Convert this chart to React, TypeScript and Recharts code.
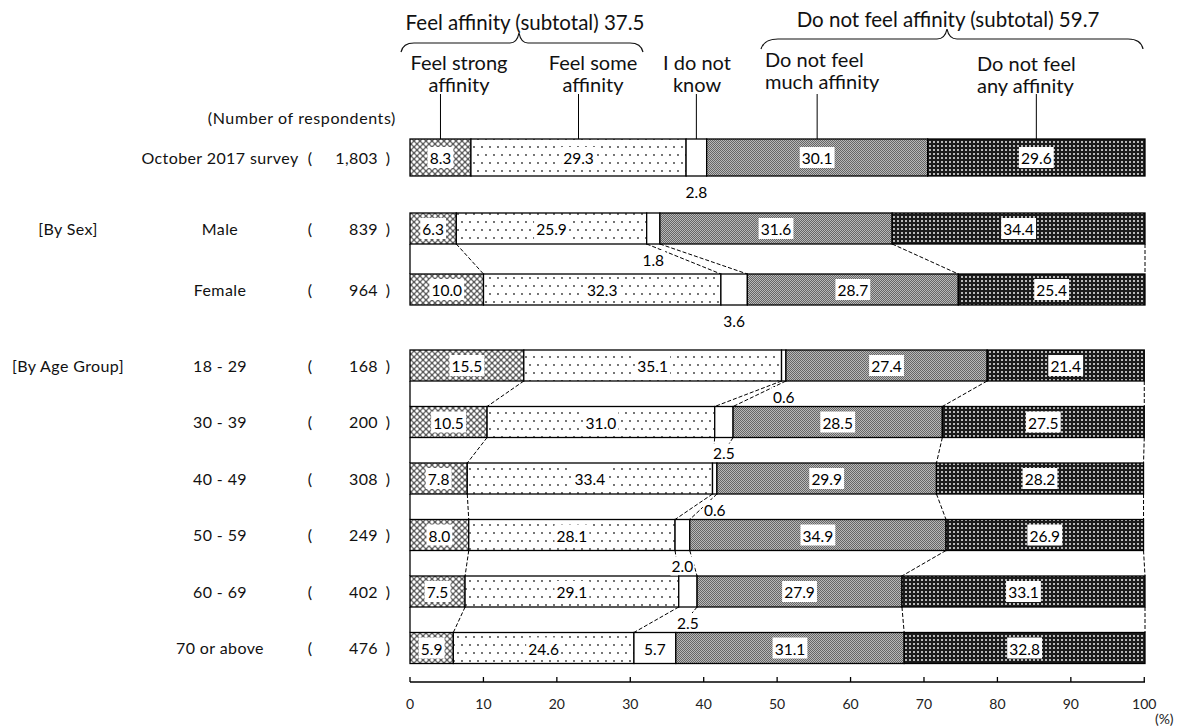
import { BarChart, Bar, XAxis, YAxis } from "recharts"

// answer categories (left → right)
const seriesKeys = ["strong", "some", "unknown", "notMuch", "notAny"]
const seriesHeaders = [
  ["Feel strong", "affinity"],
  ["Feel some", "affinity"],
  ["I do not", "know"],
  ["Do not feel", "much affinity"],
  ["Do not feel", "any affinity"],
]
const subtotalLabels = ["Feel affinity (subtotal) 37.5", "Do not feel affinity (subtotal) 59.7"]

// rows
const totalRows = ["October 2017 survey"]
const totalCounts = ["1,803"]
const sexRows = ["Male", "Female"]
const sexCounts = ["839", "964"]
const ageRows = ["18 - 29", "30 - 39", "40 - 49", "50 - 59", "60 - 69", "70 or above"]
const ageCounts = ["168", "200", "308", "249", "402", "476"]
const groupLabels = ["[By Sex]", "[By Age Group]"]

// values (%) in row order: total, male, female, 18-29 ... 70+
const strong = [8.3, 6.3, 10.0, 15.5, 10.5, 7.8, 8.0, 7.5, 5.9]
const some = [29.3, 25.9, 32.3, 35.1, 31.0, 33.4, 28.1, 29.1, 24.6]
const unknown = [2.8, 1.8, 3.6, 0.6, 2.5, 0.6, 2.0, 2.5, 5.7]
const notMuch = [30.1, 31.6, 28.7, 27.4, 28.5, 29.9, 34.9, 27.9, 31.1]
const notAny = [29.6, 34.4, 25.4, 21.4, 27.5, 28.2, 26.9, 33.1, 32.8]

const xTicks = [0, 10, 20, 30, 40, 50, 60, 70, 80, 90, 100]

const FONT = "Lato, 'Open Sans', sans-serif"
const fills = ["url(#pStrong)", "url(#pSome)", "#ffffff", "url(#pNotMuch)", "url(#pNotAny)"]

type Row = { name: string; count: string; group?: string; [k: string]: any }

function buildRows(names: string[], counts: string[], offset: number, group?: string): Row[] {
  return names.map((name, i) => ({
    name,
    count: counts[i],
    group: i === 0 ? group : undefined,
    i,
    strong: strong[offset + i],
    some: some[offset + i],
    unknown: unknown[offset + i],
    notMuch: notMuch[offset + i],
    notAny: notAny[offset + i],
  }))
}

const totalData = buildRows(totalRows, totalCounts, 0)
const sexData = buildRows(sexRows, sexCounts, 1, groupLabels[0])
const ageData = buildRows(ageRows, ageCounts, 3, groupLabels[1])

const vals = (r: Row) => seriesKeys.map((k) => r[k] as number)
const cum = (r: Row, k: number) => vals(r).slice(0, k + 1).reduce((a, b) => a + b, 0)

const VAL_FS = 15.5

function textWidth(s: string) {
  let w = 0
  for (const c of s) w += c === "." ? VAL_FS * 0.25 : VAL_FS * 0.58
  return w
}

function makeShape(k: number, rows: Row[], step: number, leaderTop?: number) {
  return (props: any) => {
    const { x, y, width, height, payload } = props
    const row = rows[payload.i]
    const v = row[seriesKeys[k]] as number
    const ppu = width / v
    const x0 = x - (cum(row, k) - v) * ppu
    const next = rows[payload.i + 1]
    const label = v.toFixed(1)
    const cx = x + width / 2
    const below = k === 2 && v < 5
    const tw = textWidth(label)
    return (
      <g>
        <rect x={x} y={y} width={width} height={height} fill={fills[k]} stroke="#000" strokeWidth={1.3} />
        {next && k === 0 && (
          <line x1={x} x2={x} y1={y + height} y2={y + step} stroke="#000" strokeWidth={1.3} />
        )}
        {next && (
          <line
            x1={x + width}
            y1={y + height}
            x2={x0 + cum(next, k) * ppu}
            y2={y + step}
            stroke="#000"
            strokeWidth={1}
            strokeDasharray="4 2"
          />
        )}
        {leaderTop !== undefined && (
          <line x1={cx} x2={cx} y1={y} y2={leaderTop} stroke="#000" strokeWidth={1} />
        )}
        {below ? (
          <g>
            <rect x={cx - tw / 2 - 1} y={y + height + 6} width={tw + 2} height={19} fill="#fff" />
            <text x={cx} y={y + height + 15.5} textAnchor="middle" dominantBaseline="central" fontSize={VAL_FS} fill="#000" fontFamily={FONT}>
              {label}
            </text>
          </g>
        ) : (
          <g>
            <rect x={cx - tw / 2 - 2} y={y + height / 2 - 10.5} width={tw + 4} height={21} fill="#fff" />
            <text x={cx} y={y + height / 2 + 0.5} textAnchor="middle" dominantBaseline="central" fontSize={VAL_FS} fill="#000" fontFamily={FONT}>
              {label}
            </text>
          </g>
        )}
      </g>
    )
  }
}

function RowTick(props: any) {
  const { y, payload, rows } = props
  const row = (rows as Row[]).find((r) => r.name === payload.value)
  if (!row) return null
  const st = { fontSize: 16, fill: "#111", fontFamily: FONT, letterSpacing: 0.4 }
  return (
    <g>
      {row.group && (
        <text x={68} y={y} textAnchor="middle" dominantBaseline="central" {...st}>
          {row.group}
        </text>
      )}
      <text x={220} y={y} textAnchor="middle" dominantBaseline="central" {...st}>
        {row.name}
      </text>
      <text x={310} y={y} textAnchor="middle" dominantBaseline="central" {...st}>
        (
      </text>
      <text x={378} y={y} textAnchor="end" dominantBaseline="central" {...st}>
        {row.count}
      </text>
      <text x={388} y={y} textAnchor="middle" dominantBaseline="central" {...st}>
        )
      </text>
    </g>
  )
}

function PctTick(props: any) {
  const { x, y, payload } = props
  return (
    <g>
      <line x1={x} x2={x} y1={y - 5} y2={y} stroke="#000" strokeWidth={1.3} />
      <text x={x} y={y + 21} textAnchor="middle" dominantBaseline="central" fontSize={14} fill="#222" fontFamily={FONT}>
        {payload.value}
      </text>
      {payload.value === 100 && (
        <text x={x + 20} y={y + 36} textAnchor="middle" dominantBaseline="central" fontSize={14} fill="#222" fontFamily={FONT}>
          (%)
        </text>
      )}
    </g>
  )
}

type PanelProps = {
  data: Row[]
  top: number
  height: number
  marginTop: number
  marginBottom: number
  barSize: number
  step: number
  showAxis?: boolean
  padBottom?: number
  leaderTop?: number
}

function Panel({ data, top, height, marginTop, marginBottom, barSize, step, showAxis, padBottom, leaderTop }: PanelProps) {
  return (
    <div style={{ position: "absolute", left: 0, top, width: 1181, height }}>
      <BarChart
        width={1181}
        height={height}
        data={data}
        layout="vertical"
        margin={{ top: marginTop, right: 36, bottom: marginBottom, left: 0 }}
        barSize={barSize}
      >
        <XAxis
          type="number"
          domain={[0, 100]}
          ticks={xTicks}
          hide={!showAxis}
          height={30}
          axisLine={{ stroke: "#000", strokeWidth: 1.3 }}
          tickLine={false}
          tickSize={0}
          tickMargin={0}
          tick={<PctTick />}
          interval={0}
        />
        <YAxis
          type="category"
          dataKey="name"
          width={410}
          axisLine={false}
          tickLine={false}
          interval={0}
          padding={{ top: 0, bottom: padBottom ?? 0 }}
          tick={<RowTick rows={data} />}
        />
        {seriesKeys.map((key, k) => (
          <Bar
            key={key}
            dataKey={key}
            stackId="a"
            fill={fills[k]}
            isAnimationActive={false}
            shape={makeShape(k, data, step, leaderTop)}
          />
        ))}
      </BarChart>
    </div>
  )
}

function Header() {
  const st = { fontFamily: FONT, fill: "#111" }
  const headerPos = [
    { x: 459, anchor: "middle", y: 62 },
    { x: 593, anchor: "middle", y: 62 },
    { x: 697, anchor: "middle", y: 62 },
    { x: 765, anchor: "start", y: 59 },
    { x: 977, anchor: "start", y: 63 },
  ]
  return (
    <svg width={1181} height={130} style={{ position: "absolute", left: 0, top: 0 }}>
      <defs>
        <pattern id="pStrong" patternUnits="userSpaceOnUse" width={6} height={6}>
          <rect width={6} height={6} fill="#5c5c5c" />
          <circle cx={0} cy={0} r={1.7} fill="#fff" />
          <circle cx={6} cy={0} r={1.7} fill="#fff" />
          <circle cx={0} cy={6} r={1.7} fill="#fff" />
          <circle cx={6} cy={6} r={1.7} fill="#fff" />
          <circle cx={3} cy={3} r={1.7} fill="#fff" />
        </pattern>
        <pattern id="pSome" patternUnits="userSpaceOnUse" width={8} height={16}>
          <rect width={8} height={16} fill="#fff" />
          <circle cx={2} cy={3} r={0.9} fill="#333" />
          <circle cx={6} cy={11} r={0.9} fill="#333" />
        </pattern>
        <pattern id="pNotMuch" patternUnits="userSpaceOnUse" width={2} height={2}>
          <rect width={2} height={2} fill="#b8b8b8" />
          <rect width={1} height={1} fill="#666" />
          <rect x={1} y={1} width={1} height={1} fill="#666" />
        </pattern>
        <pattern id="pNotAny" patternUnits="userSpaceOnUse" width={4} height={4}>
          <rect width={4} height={4} fill="#1c1c1c" />
          <rect x={1} y={1} width={2} height={2} fill="#b8b8b8" />
        </pattern>
      </defs>
      <text x={525} y={22} textAnchor="middle" dominantBaseline="central" fontSize={20.5} {...st}>
        {subtotalLabels[0]}
      </text>
      <path
        d="M 401 52 Q 403 43 414 43 L 510 43 Q 517 43 519 33 Q 521 43 528 43 L 630 43 Q 641 43 643 52"
        fill="none"
        stroke="#111"
        strokeWidth={1.2}
      />
      <text x={948} y={19} textAnchor="middle" dominantBaseline="central" fontSize={20.5} {...st}>
        {subtotalLabels[1]}
      </text>
      <path
        d="M 761 49 Q 764 39 778 39 L 937 39 Q 945 39 947 29 Q 949 39 957 39 L 1128 39 Q 1141 39 1143 49"
        fill="none"
        stroke="#111"
        strokeWidth={1.2}
      />
      {seriesHeaders.map((lines, i) => (
        <text
          key={i}
          x={headerPos[i].x}
          y={headerPos[i].y}
          textAnchor={headerPos[i].anchor as any}
          dominantBaseline="central"
          fontSize={20}
          {...st}
        >
          <tspan x={headerPos[i].x}>{lines[0]}</tspan>
          <tspan x={headerPos[i].x} dy={22}>
            {lines[1]}
          </tspan>
        </text>
      ))}
      <text x={396} y={117} textAnchor="end" dominantBaseline="central" fontSize={16} letterSpacing={0.6} {...st}>
        (Number of respondents)
      </text>
    </svg>
  )
}

export default function App() {
  return (
    <div style={{ position: "absolute", left: 0, top: 0, width: 1181, height: 727, background: "#fff", fontFamily: FONT }}>
      <Header />
      <Panel data={totalData} top={0} height={200} marginTop={130} marginBottom={16} barSize={37} step={54} leaderTop={94} />
      <Panel data={sexData} top={195} height={140} marginTop={3} marginBottom={15} barSize={31} step={61} />
      <Panel
        data={ageData}
        top={330}
        height={397}
        marginTop={7}
        marginBottom={15}
        barSize={31}
        step={56.5}
        showAxis
        padBottom={6}
      />
    </div>
  )
}
